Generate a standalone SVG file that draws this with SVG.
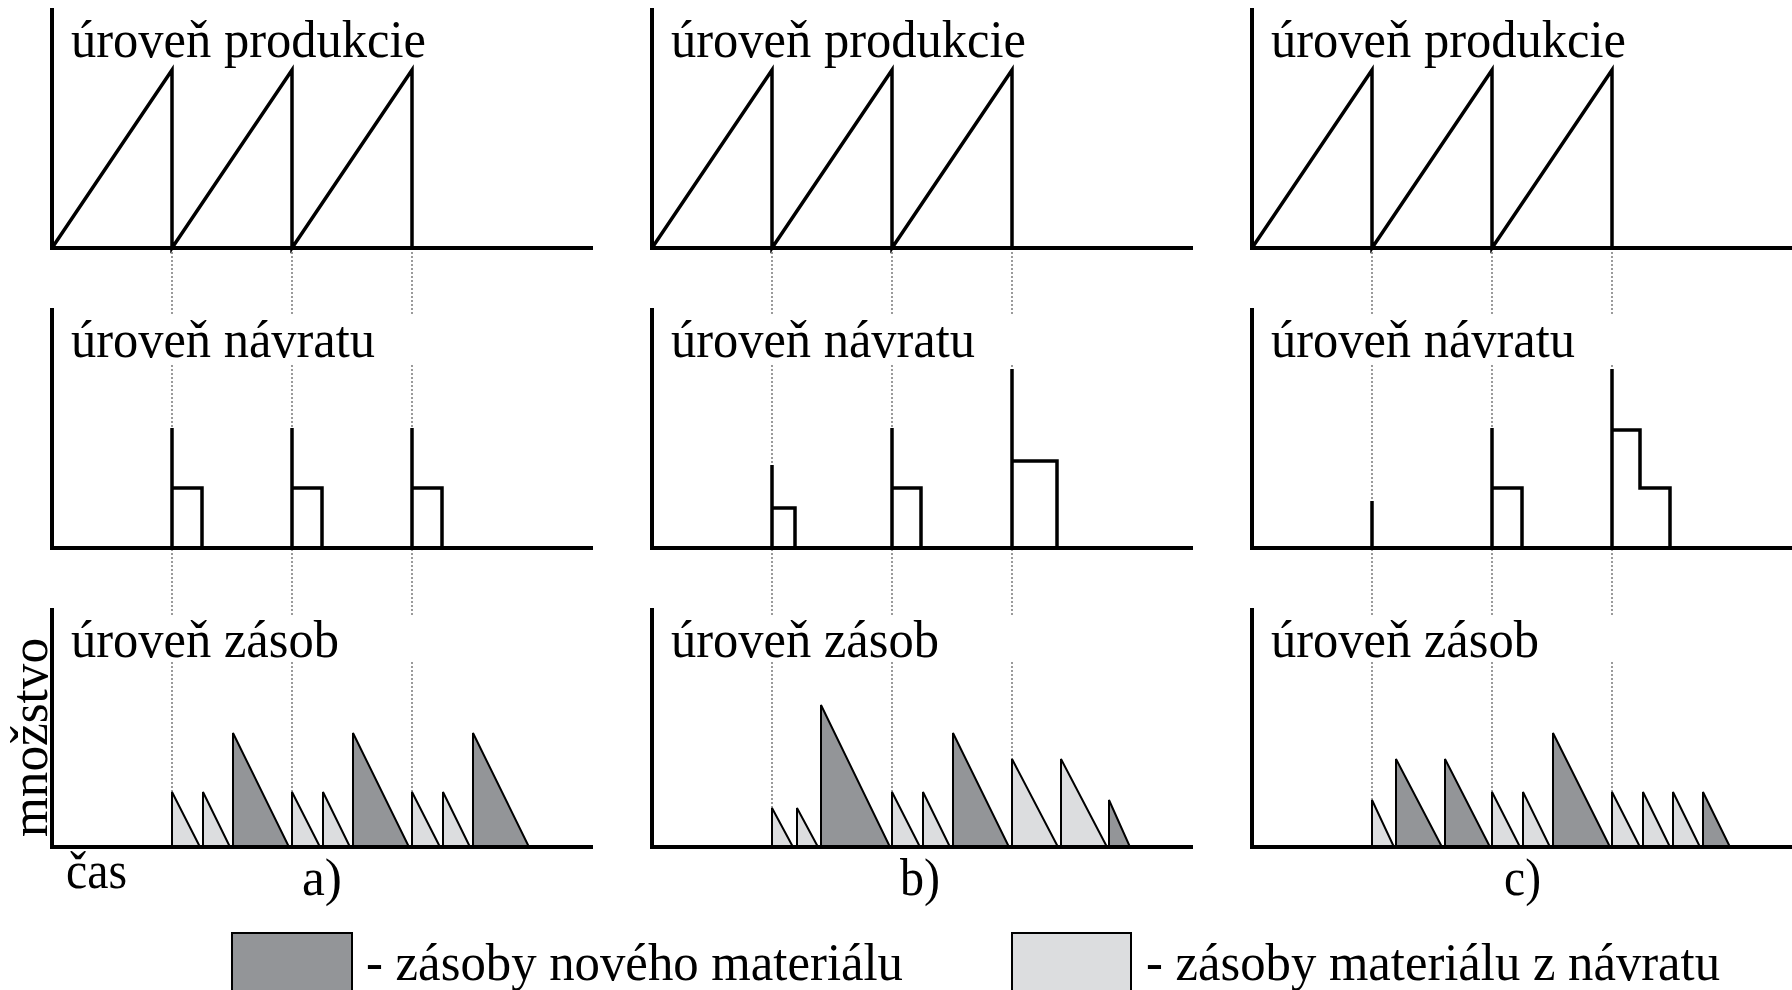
<svg xmlns="http://www.w3.org/2000/svg" width="1792" height="990" viewBox="0 0 1792 990">
<style>
text{font-family:"Liberation Serif","Times New Roman",serif;font-size:53px;fill:#000}
.axis{fill:none;stroke:#000;stroke-width:4;stroke-linecap:square}
.ln{fill:none;stroke:#000;stroke-width:3.5;stroke-linejoin:miter;stroke-linecap:butt}
.dot{fill:none;stroke:#666;stroke-width:1.3;stroke-dasharray:2 2}
.dk{fill:#939598;stroke:#000;stroke-width:2;stroke-linejoin:miter}
.lt{fill:#dcdddf;stroke:#000;stroke-width:2;stroke-linejoin:miter}
</style>
<rect width="1792" height="990" fill="#fff"/>
<g id="connectors">
<path class="dot" d="M172,248V315M172,365V615M172,662V847M292,248V315M292,365V615M292,662V847M412,248V315M412,365V615M412,662V847"/>
<path class="dot" d="M772,248V315M772,365V615M772,662V847M892,248V315M892,365V615M892,662V847M1012,248V315M1012,365V615M1012,662V847"/>
<path class="dot" d="M1372,248V315M1372,365V615M1372,662V847M1492,248V315M1492,365V615M1492,662V847M1612,248V315M1612,365V615M1612,662V847"/>
</g>
<g id="panel-a-produkcia">
<path class="axis" d="M52,10V248H591"/>
<path class="ln" d="M52,248L172,70V248L292,70V248L412,70V248"/>
<text x="71" y="57" textLength="355" lengthAdjust="spacingAndGlyphs">úroveň produkcie</text>
</g>
<g id="panel-b-produkcia">
<path class="axis" d="M652,10V248H1191"/>
<path class="ln" d="M652,248L772,70V248L892,70V248L1012,70V248"/>
<text x="671" y="57" textLength="355" lengthAdjust="spacingAndGlyphs">úroveň produkcie</text>
</g>
<g id="panel-c-produkcia">
<path class="axis" d="M1252,10V248H1792"/>
<path class="ln" d="M1252,248L1372,70V248L1492,70V248L1612,70V248"/>
<text x="1271" y="57" textLength="355" lengthAdjust="spacingAndGlyphs">úroveň produkcie</text>
</g>
<g id="panel-a-navrat">
<path class="axis" d="M52,310V548H591"/>
<path class="ln" d="M172,548V428M172,488H202V548M292,548V428M292,488H322V548M412,548V428M412,488H442V548"/>
<text x="71" y="357" textLength="304" lengthAdjust="spacingAndGlyphs">úroveň návratu</text>
</g>
<g id="panel-b-navrat">
<path class="axis" d="M652,310V548H1191"/>
<path class="ln" d="M772,548V465M772,508H795V548M892,548V428M892,488H921V548M1012,548V369M1012,461H1057V548"/>
<text x="671" y="357" textLength="304" lengthAdjust="spacingAndGlyphs">úroveň návratu</text>
</g>
<g id="panel-c-navrat">
<path class="axis" d="M1252,310V548H1792"/>
<path class="ln" d="M1372,548V501M1492,548V428M1492,488H1522V548M1612,548V369M1612,430H1640V488H1670V548"/>
<text x="1271" y="357" textLength="304" lengthAdjust="spacingAndGlyphs">úroveň návratu</text>
</g>
<g id="panel-a-zasoby">
<polygon class="lt" points="172,847 172,792 200,847"/>
<polygon class="lt" points="203,847 203,792 230,847"/>
<polygon class="dk" points="233,847 233,733 289,847"/>
<polygon class="lt" points="292,847 292,792 320,847"/>
<polygon class="lt" points="323,847 323,792 350,847"/>
<polygon class="dk" points="353,847 353,733 409,847"/>
<polygon class="lt" points="412,847 412,792 440,847"/>
<polygon class="lt" points="443,847 443,792 470,847"/>
<polygon class="dk" points="473,847 473,733 529,847"/>
<path class="axis" d="M52,610V847H591"/>
<text x="71" y="657" textLength="268" lengthAdjust="spacingAndGlyphs">úroveň zásob</text>
</g>
<g id="panel-b-zasoby">
<polygon class="lt" points="772,847 772,808 793,847"/>
<polygon class="lt" points="797,847 797,808 818,847"/>
<polygon class="dk" points="821,847 821,705 890,847"/>
<polygon class="lt" points="892,847 892,792 920,847"/>
<polygon class="lt" points="923,847 923,792 950,847"/>
<polygon class="dk" points="953,847 953,733 1009,847"/>
<polygon class="lt" points="1012,847 1012,759 1058,847"/>
<polygon class="lt" points="1061,847 1061,759 1107,847"/>
<polygon class="dk" points="1109,847 1109,800 1130,847"/>
<path class="axis" d="M652,610V847H1191"/>
<text x="671" y="657" textLength="268" lengthAdjust="spacingAndGlyphs">úroveň zásob</text>
</g>
<g id="panel-c-zasoby">
<polygon class="lt" points="1372,847 1372,800 1394,847"/>
<polygon class="dk" points="1396,847 1396,759 1442,847"/>
<polygon class="dk" points="1445,847 1445,759 1490,847"/>
<polygon class="lt" points="1492,847 1492,792 1520,847"/>
<polygon class="lt" points="1523,847 1523,792 1550,847"/>
<polygon class="dk" points="1553,847 1553,733 1610,847"/>
<polygon class="lt" points="1612,847 1612,792 1640,847"/>
<polygon class="lt" points="1643,847 1643,792 1670,847"/>
<polygon class="lt" points="1673,847 1673,792 1700,847"/>
<polygon class="dk" points="1703,847 1703,792 1730,847"/>
<path class="axis" d="M1252,610V847H1792"/>
<text x="1271" y="657" textLength="268" lengthAdjust="spacingAndGlyphs">úroveň zásob</text>
</g>
<g id="axis-labels">
<text transform="translate(47,837) rotate(-90)" textLength="199" lengthAdjust="spacingAndGlyphs">množstvo</text>
<text x="66" y="888" textLength="61" lengthAdjust="spacingAndGlyphs">čas</text>
<text x="302" y="895" textLength="40" lengthAdjust="spacingAndGlyphs">a)</text>
<text x="900" y="895" textLength="40" lengthAdjust="spacingAndGlyphs">b)</text>
<text x="1504" y="895" textLength="37" lengthAdjust="spacingAndGlyphs">c)</text>
</g>
<g id="legend-novy">
<rect class="dk" x="232" y="933" width="120" height="70"/>
<text x="366" y="980" textLength="537" lengthAdjust="spacingAndGlyphs">- zásoby nového materiálu</text>
</g>
<g id="legend-navrat">
<rect class="lt" x="1012" y="933" width="119" height="70"/>
<text x="1146" y="980" textLength="574" lengthAdjust="spacingAndGlyphs">- zásoby materiálu z návratu</text>
</g>
</svg>
